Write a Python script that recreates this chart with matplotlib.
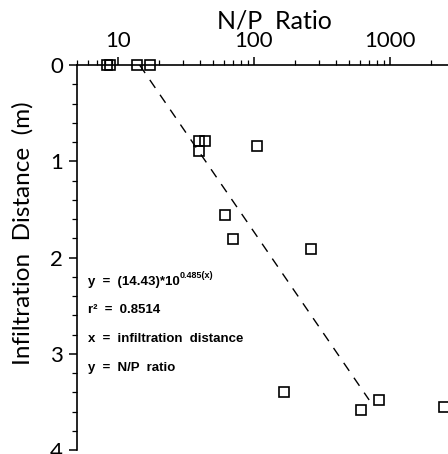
import numpy as np
import matplotlib
matplotlib.use("Agg")
import matplotlib.pyplot as plt
from matplotlib.ticker import MultipleLocator, LogLocator, NullFormatter, FixedLocator, FixedFormatter

# measured points (N/P ratio vs infiltration distance)
np_ratio = [8.3, 8.7, 13.8, 17.2, 39.5, 43.5, 39.5, 105, 61, 70.5, 261, 166, 617, 830, 2500]
distance = [0, 0, 0, 0, 0.79, 0.79, 0.89, 0.84, 1.56, 1.81, 1.91, 3.40, 3.58, 3.48, 3.55]

# regression y = a * 10**(b*x)
fit_a = 14.43
fit_b = 0.485
fit_dist = np.linspace(0, 3.48, 50)
fit_ratio = fit_a * 10 ** (fit_b * fit_dist)

x_ticks = [10, 100, 1000]
x_ticklabels = ["10", "100", "1000"]
y_ticks = [0, 1, 2, 3, 4]

eq_lines = ["y  =  (14.43)*10", "r\u00b2  =  0.8514", "x  =  infiltration  distance", "y  =  N/P  ratio"]
eq_depth = [2.25, 2.55, 2.85, 3.15]

thin = "Lato"

fig = plt.figure(figsize=(4.48, 4.54), dpi=100)
W, H = 448, 454
left, top, bottom = 77, 65, 450
xmin, xmax = 5, 4000
px_dec = 136
width = np.log10(xmax / xmin) * px_dec
ax = fig.add_axes([left / W, (H - bottom) / H, width / W, (bottom - top) / H])

ax.plot(fit_ratio, fit_dist, color="black", lw=1.0, dashes=(7, 6))
ax.plot(np_ratio, distance, linestyle="none", marker="s", ms=7.2,
        mfc="none", mec="black", mew=1.2, clip_on=False)

ax.set_xscale("log")
ax.set_xlim(xmin, xmax)
ax.set_ylim(4, 0)

ax.xaxis.tick_top()
ax.xaxis.set_label_position("top")
ax.xaxis.set_major_locator(FixedLocator(x_ticks))
ax.xaxis.set_major_formatter(FixedFormatter(x_ticklabels))
ax.xaxis.set_minor_locator(LogLocator(base=10, subs=np.arange(2, 10)))
ax.xaxis.set_minor_formatter(NullFormatter())
ax.yaxis.set_major_locator(FixedLocator(y_ticks))
ax.yaxis.set_minor_locator(MultipleLocator(0.2))

for s in ["right", "bottom"]:
    ax.spines[s].set_visible(False)
for s in ["left", "top"]:
    ax.spines[s].set_linewidth(1.2)

ax.tick_params(axis="both", which="major", direction="out", length=6, width=1.1,
               labelsize=16, pad=4)
ax.tick_params(axis="x", which="major", pad=4)
ax.tick_params(axis="both", which="minor", direction="out", length=3.5, width=0.9)
for lab in ax.get_xticklabels() + ax.get_yticklabels():
    lab.set_fontfamily(thin)

ax.set_xlabel("N/P  Ratio", fontsize=18, fontfamily=thin, labelpad=2)
ax.text(-54 / width, 1.75, "Infiltration  Distance  (m)", rotation=90,
        transform=ax.get_yaxis_transform(), fontsize=17.5, fontfamily=thin,
        ha="center", va="center")

bold = dict(fontsize=9.5, fontweight="bold", fontfamily="Liberation Sans",
            ha="left", va="center", transform=ax.get_yaxis_transform())
tx = 11 / width
texts = [ax.text(tx, d, s, **bold) for s, d in zip(eq_lines, eq_depth)]
ax.annotate("0.485(x)", xy=(1.0, 0.6), xycoords=texts[0], fontsize=6.5,
            fontweight="bold", fontfamily="Liberation Sans", ha="left", va="bottom")

fig.savefig("out.png", dpi=100)
